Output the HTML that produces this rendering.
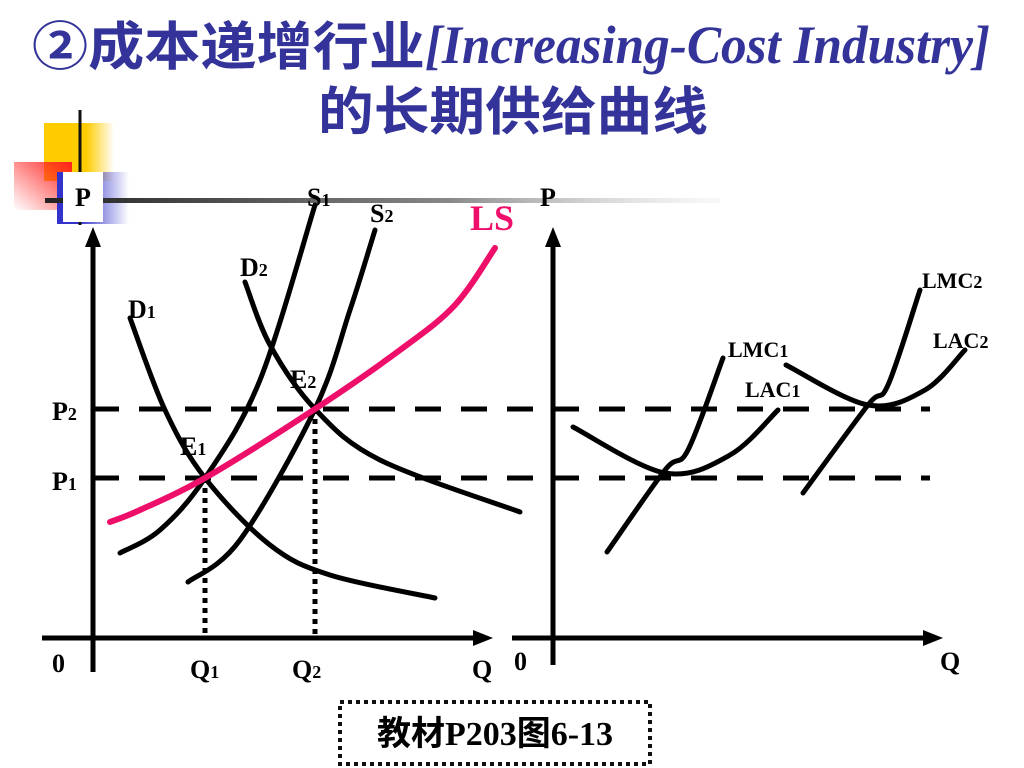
<!DOCTYPE html>
<html><head><meta charset="utf-8"><style>
html,body{margin:0;padding:0;background:#fff;}
svg{display:block;}
</style></head><body>
<svg id="chart" width="1024" height="768" viewBox="0 0 1024 768" xmlns="http://www.w3.org/2000/svg">
<defs>
<linearGradient id="gy" x1="0" x2="1"><stop offset="0.6" stop-color="#ffcc00"/><stop offset="1" stop-color="#ffcc00" stop-opacity="0"/></linearGradient>
<linearGradient id="gr" x1="1" x2="0" y1="0" y2="1"><stop offset="0" stop-color="#ff2020"/><stop offset="1" stop-color="#ff2020" stop-opacity="0"/></linearGradient>
<linearGradient id="gb" x1="0" x2="1"><stop offset="0.3" stop-color="#3333cc"/><stop offset="1" stop-color="#3333cc" stop-opacity="0"/></linearGradient>
<linearGradient id="gl" x1="0" x2="1"><stop offset="0" stop-color="#222"/><stop offset="0.6" stop-color="#888"/><stop offset="1" stop-color="#ddd" stop-opacity="0.2"/></linearGradient>
</defs>
<g fill="#333399" font-weight="bold">
<text x="32" y="65" font-family="'Liberation Sans','Noto Sans CJK SC',sans-serif" font-size="52" textLength="393" lengthAdjust="spacingAndGlyphs">②成本递增行业</text>
<text x="425" y="63" font-family="'Liberation Serif',serif" font-size="54" font-style="italic" textLength="565" lengthAdjust="spacingAndGlyphs">[Increasing-Cost Industry]</text>
<text x="318" y="130" font-family="'Liberation Sans','Noto Sans CJK SC',sans-serif" font-size="52" textLength="390" lengthAdjust="spacingAndGlyphs">的长期供给曲线</text>
</g>
<g>
<rect x="44" y="123" width="70" height="58" fill="url(#gy)"/>
<rect x="14" y="162" width="58" height="48" fill="url(#gr)"/>
<rect x="57" y="172" width="72" height="52" fill="url(#gb)"/>
<line x1="80" y1="110" x2="80" y2="225" stroke="#111" stroke-width="3"/>
<rect x="45" y="198" width="675" height="5" fill="url(#gl)"/>
<rect x="63" y="172" width="40" height="50" fill="#fff"/>
</g>
<g id="marks"></g>
<g>
<rect x="340" y="702" width="310" height="62" fill="none" stroke="#111" stroke-width="4" stroke-dasharray="4 4"/>
<text x="495" y="745" text-anchor="middle" font-family="'Liberation Serif','Noto Sans CJK SC',serif" font-size="34" font-weight="bold">教材P203图6-13</text>
</g>
</svg>
<script>
// Left market chart (units: q right of origin, p above origin)
const P_levels = [160, 229];          // P1, P2 heights
const Q_levels = [112, 222];          // Q1, Q2
const D1 = [[37,320],[72,228],[112,160],[177,93],[237,63],[342,40]];
const D2 = [[152,356],[177,293],[222,229],[287,178],[427,126]];
const S1 = [[27,85],[67,108],[112,160],[167,258],[222,433]];
const S2 = [[95,56],[147,98],[222,229],[257,328],[282,408]];
const LS = [[17,116],[47,128],[112,160],[222,229],[307,288],[362,333],[402,390]];
// Right firm chart (units relative to origin at 553,638)
const LAC1 = [[20,211],[112,165],[177,183],[225,228]];
const LMC1 = [[54,86],[112,168],[135,188],[170,280]];
const LAC2 = [[233,273],[315,233],[372,248],[412,288]];
const LMC2 = [[250,145],[315,233],[335,253],[367,348]];

const NS="http://www.w3.org/2000/svg";
const g=document.getElementById('marks');
const lx=q=>93+q, ly=p=>638-p, rx=q=>553+q;
function el(tag,attrs){const e=document.createElementNS(NS,tag);for(const k in attrs)e.setAttribute(k,attrs[k]);g.appendChild(e);return e;}
function smooth(pts){let d=`M${pts[0][0]},${pts[0][1]}`;for(let i=0;i<pts.length-1;i++){const p0=pts[i-1]||pts[i],p1=pts[i],p2=pts[i+1],p3=pts[i+2]||p2;
d+=` C${p1[0]+(p2[0]-p0[0])/6},${p1[1]+(p2[1]-p0[1])/6} ${p2[0]-(p3[0]-p1[0])/6},${p2[1]-(p3[1]-p1[1])/6} ${p2[0]},${p2[1]}`;}return d;}
function curve(data,fx,name,color){const e=el('path',{d:smooth(data.map(d=>[fx(d[0]),ly(d[1])])),fill:'none',stroke:color||'#000','stroke-width':color?6:5,'stroke-linecap':'round'});

}
function txt(x,y,s,sub,name,opt){const t=el('text',{x:x,y:y,'font-family':"'Liberation Serif',serif",'font-weight':'bold','font-size':(opt&&opt.size)||26,fill:(opt&&opt.fill)||'#000'});
t.textContent=s;if(sub){const ts=document.createElementNS(NS,'tspan');ts.setAttribute('font-size',18);ts.textContent=sub;t.appendChild(ts);}

}
function arrow(x1,y1,x2,y2,name){const a=el('line',{x1:x1,y1:y1,x2:x2,y2:y2,stroke:'#000','stroke-width':5});


const dx=x2-x1,dy=y2-y1,L=Math.hypot(dx,dy),ux=dx/L,uy=dy/L;
const h=el('polygon',{points:`${x2+ux*8},${y2+uy*8} ${x2-ux*12-uy*8},${y2-uy*12+ux*8} ${x2-ux*12+uy*8},${y2-uy*12-ux*8}`,fill:'#000'});

}
// dashed price lines
P_levels.forEach((p,i)=>{const a=el('line',{x1:lx(0),y1:ly(p),x2:rx(377),y2:ly(p),stroke:'#000','stroke-width':5,'stroke-dasharray':'26 20'});

});
// dotted quantity lines
Q_levels.forEach((q,i)=>{const a=el('line',{x1:lx(q),y1:ly(P_levels[i]),x2:lx(q),y2:ly(0),stroke:'#000','stroke-width':5,'stroke-dasharray':'5 5'});

});
arrow(93,672,93,235,'left-y-axis');arrow(42,638,485,638,'left-x-axis');
arrow(553,665,553,235,'right-y-axis');arrow(512,638,935,638,'right-x-axis');
curve(D1,lx,'demand-d1');curve(D2,lx,'demand-d2');curve(S1,lx,'supply-s1');curve(S2,lx,'supply-s2');
curve(LS,lx,'long-run-supply-ls','#ee0f6a');
curve(LAC1,rx,'lac1-curve');curve(LMC1,rx,'lmc1-curve');curve(LAC2,rx,'lac2-curve');curve(LMC2,rx,'lmc2-curve');
txt(75,206,'P','','left-p-axis-label');txt(540,206,'P','','right-p-axis-label');
txt(52,420,'P','2','p2-label');txt(52,490,'P','1','p1-label');
txt(180,455,'E','1','e1-label');txt(290,388,'E','2','e2-label');
txt(128,318,'D','1','d1-label');txt(240,276,'D','2','d2-label');
txt(307,206,'S','1','s1-label');txt(370,222,'S','2','s2-label');
txt(470,230,'LS','','ls-label',{size:36,fill:'#ee0f6a'});
txt(52,672,'0','','left-origin');txt(190,678,'Q','1','q1-label');txt(292,678,'Q','2','q2-label');txt(472,678,'Q','','left-q-axis-label');
txt(514,670,'0','','right-origin');txt(940,670,'Q','','right-q-axis-label');
txt(728,357,'LMC','1','lmc1-label',{size:22});txt(745,397,'LAC','1','lac1-label',{size:22});
txt(922,288,'LMC','2','lmc2-label',{size:22});txt(933,348,'LAC','2','lac2-label',{size:22});
</script>
</body></html>
